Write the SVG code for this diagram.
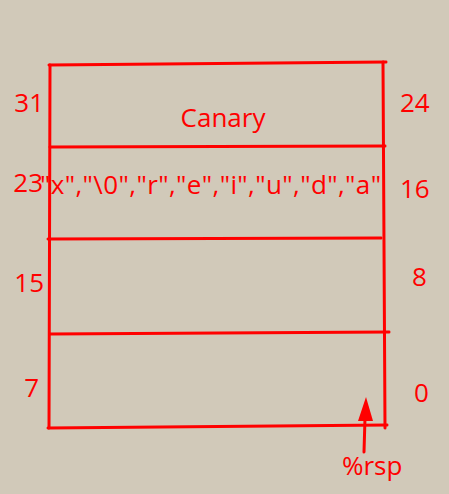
<svg xmlns="http://www.w3.org/2000/svg" width="449" height="494" viewBox="0 0 449 494">
<defs>
<style>
.ln{stroke:#ff0000;stroke-width:3;fill:none;stroke-linecap:round}
text{font-family:"Open Sans","DejaVu Sans",sans-serif;font-size:26px;fill:#ff0000}
</style>
</defs>
<rect width="449" height="494" fill="#d1c9b9"/>
<g id="frame">
<line class="ln" x1="49" y1="65" x2="386" y2="62"/>
<line class="ln" x1="50" y1="65" x2="49" y2="428"/>
<line class="ln" x1="383" y1="62" x2="385" y2="428"/>
<line class="ln" x1="50" y1="147" x2="385" y2="146"/>
<line class="ln" x1="48" y1="239" x2="381" y2="238"/>
<line class="ln" x1="50" y1="334" x2="389" y2="332"/>
<line class="ln" x1="48" y1="428" x2="387" y2="425"/>
</g>
<g id="slot-canary"><text x="223" y="127" text-anchor="middle">Canary</text></g>
<g id="slot-string"><text x="40" y="194" textLength="341" lengthAdjust="spacing">"x","\0","r","e","i","u","d","a"</text></g>
<g id="labels-left">
<text x="44" y="112" text-anchor="end">31</text>
<text x="43" y="192" text-anchor="end">23</text>
<text x="44" y="292" text-anchor="end">15</text>
<text x="39" y="397" text-anchor="end">7</text>
</g>
<g id="labels-right">
<text x="400" y="112">24</text>
<text x="400" y="198">16</text>
<text x="412" y="286">8</text>
<text x="414" y="402">0</text>
</g>
<g id="connectors">
<line class="ln" x1="364" y1="452" x2="365" y2="418"/>
<path d="M358,421 L366,397 L373,421 Z" fill="#ff0000"/>
</g>
<g id="rsp"><text x="342" y="475">%rsp</text></g>
</svg>
